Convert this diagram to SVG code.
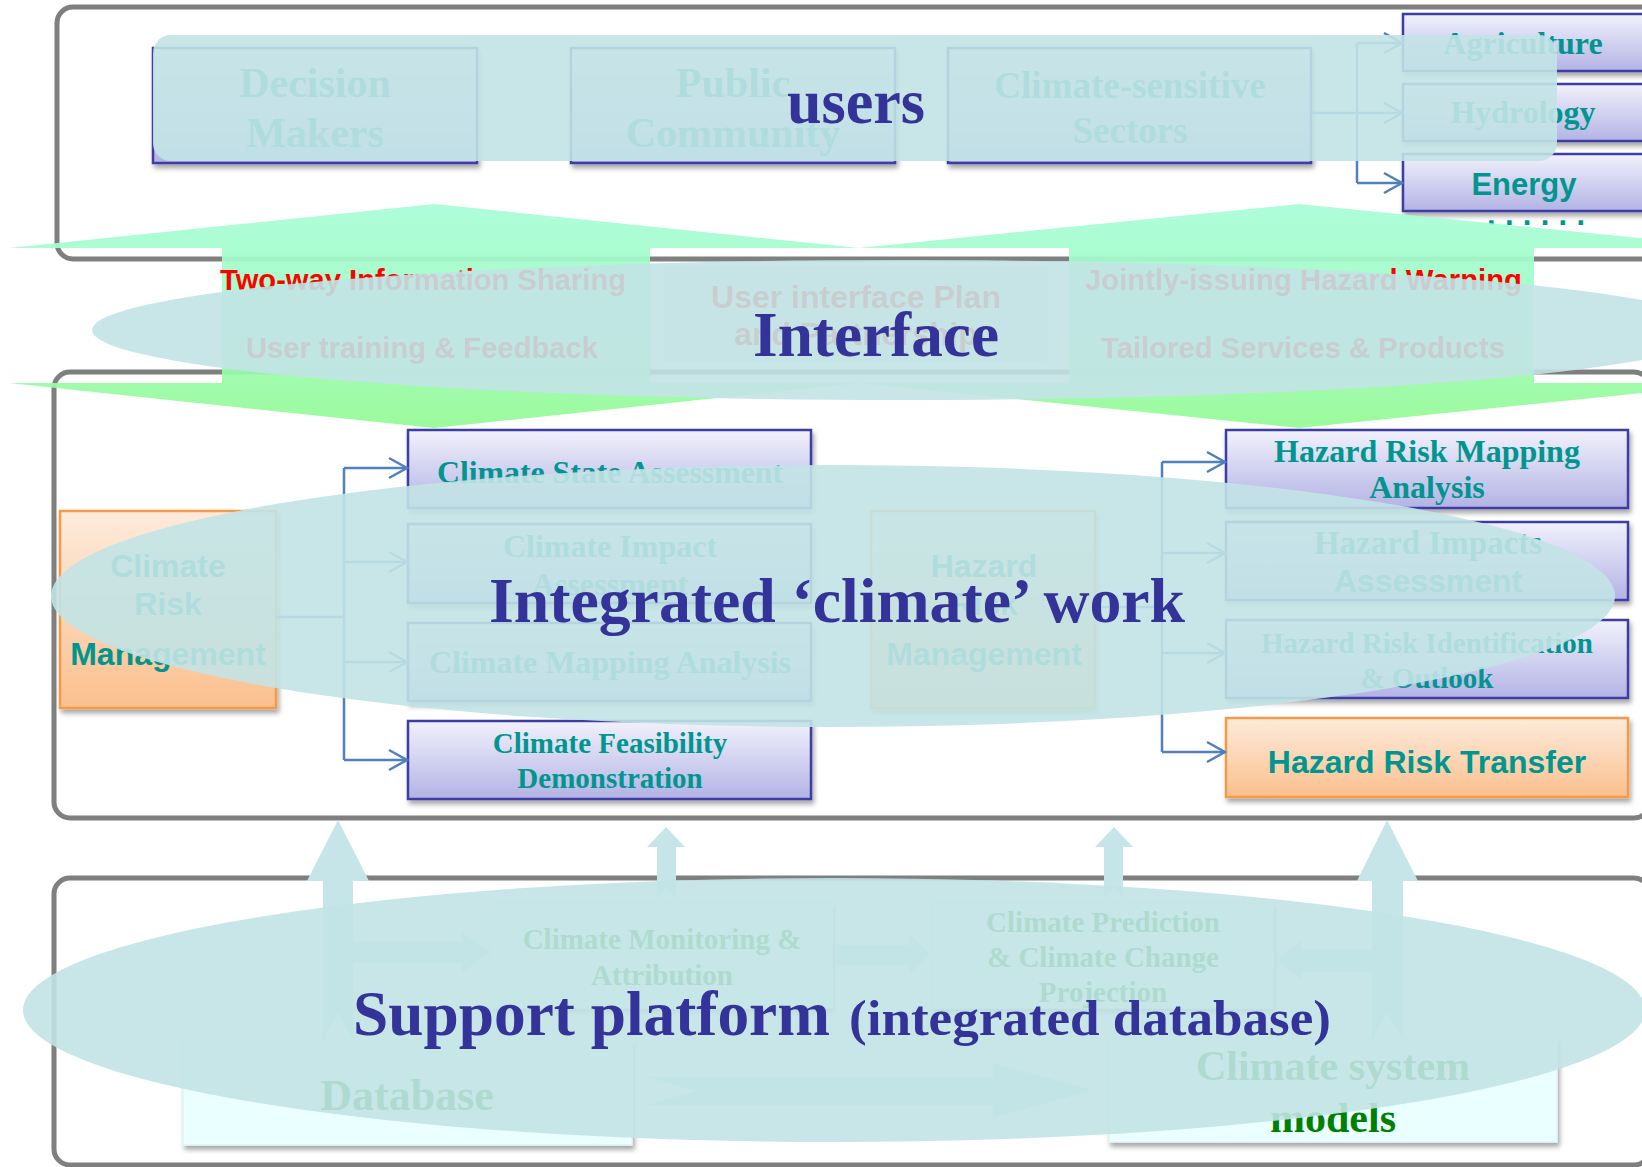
<svg xmlns="http://www.w3.org/2000/svg" width="1642" height="1167" viewBox="0 0 1642 1167">
<style>
.frame{fill:none;stroke:#7f7f7f;stroke-width:5}
.lav{fill:url(#lavG);stroke:#3d3da5;stroke-width:2.5}
.org{fill:url(#orgG);stroke:#f59a4a;stroke-width:2.5}
.cyan{fill:#eaffff;stroke:#e0f4f4;stroke-width:1.5}
.serif{font-family:"Liberation Serif","Times New Roman",serif;font-weight:bold}
.sans{font-family:"Liberation Sans",Arial,sans-serif;font-weight:bold}
.teal{fill:#00968f}
.grn{fill:#008000}
.red{fill:#ff0000}
.navy{fill:#333399}
.mid{text-anchor:middle}
.ov{fill:#c2e3e6;opacity:0.9}
.blk{fill:#c5e5e8}
.con{fill:none;stroke:#4f81bd;stroke-width:2.5}
</style>
<defs>
<linearGradient id="lavG" x1="0" y1="0" x2="0" y2="1">
<stop offset="0" stop-color="#f1f1fc"/><stop offset="1" stop-color="#b3b3e5"/>
</linearGradient>
<linearGradient id="orgG" x1="0" y1="0" x2="0" y2="1">
<stop offset="0" stop-color="#fdebdc"/><stop offset="1" stop-color="#fbc08e"/>
</linearGradient>
<linearGradient id="grnG" gradientUnits="userSpaceOnUse" x1="0" y1="204" x2="0" y2="428">
<stop offset="0" stop-color="#a8fdd8"/><stop offset="0.5" stop-color="#a0fcc0"/><stop offset="1" stop-color="#94fa94"/>
</linearGradient>
<filter id="sh" x="-5%" y="-10%" width="115%" height="135%">
<feDropShadow dx="2" dy="4" stdDeviation="2.5" flood-color="#000" flood-opacity="0.35"/>
</filter>
<marker id="chev" markerUnits="userSpaceOnUse" markerWidth="24" markerHeight="26" viewBox="0 0 24 26" refX="21" refY="13" orient="auto">
<path d="M3,3 L21,13 L3,23" fill="none" stroke="#4f81bd" stroke-width="2.5"/>
</marker>
</defs>
<rect width="1642" height="1167" fill="#ffffff"/>
<g id="frames">
<rect class="frame" x="57" y="7" width="1700" height="252" rx="16"/>
<rect class="frame" x="54" y="372" width="1596" height="446" rx="16"/>
<rect class="frame" x="54" y="878" width="1596" height="287" rx="16"/>
</g>
<!-- users nodes -->
<g id="node-decision-makers">
<rect class="lav" x="153" y="48" width="324" height="115" filter="url(#sh)"/>
<text class="serif teal mid" x="315" y="97" font-size="42">Decision</text>
<text class="serif teal mid" x="315" y="147" font-size="42">Makers</text>
</g>
<g id="node-public-community">
<rect class="lav" x="571" y="48" width="324" height="115" filter="url(#sh)"/>
<text class="serif teal mid" x="733" y="97" font-size="42">Public</text>
<text class="serif teal mid" x="733" y="147" font-size="42">Community</text>
</g>
<g id="node-sectors">
<rect class="lav" x="948" y="48" width="363" height="115" filter="url(#sh)"/>
<text class="serif teal mid" x="1130" y="98" font-size="37">Climate-sensitive</text>
<text class="serif teal mid" x="1130" y="143" font-size="37">Sectors</text>
</g>
<g id="node-agriculture">
<rect class="lav" x="1403" y="14" width="260" height="57" filter="url(#sh)"/>
<text class="serif teal mid" x="1523" y="54" font-size="32">Agriculture</text>
</g>
<g id="node-hydrology">
<rect class="lav" x="1403" y="84" width="260" height="57" filter="url(#sh)"/>
<text class="serif teal mid" x="1523" y="123" font-size="32">Hydrology</text>
</g>
<g id="node-energy">
<rect class="lav" x="1403" y="154" width="260" height="57" filter="url(#sh)"/>
<text class="sans teal mid" x="1524" y="195" font-size="31">Energy</text>
<text class="sans teal" x="1487" y="225" font-size="31" textLength="98" lengthAdjust="spacing">......</text>
</g>
<!-- integrated work nodes -->
<g id="node-climate-risk-management">
<rect class="org" x="60" y="511" width="216" height="197" filter="url(#sh)"/>
<text class="sans teal mid" x="168" y="577" font-size="32">Climate</text>
<text class="sans teal mid" x="168" y="615" font-size="32">Risk</text>
<text class="sans teal mid" x="168" y="665" font-size="32">Management</text>
</g>
<g id="node-climate-state">
<rect class="lav" x="408" y="430" width="403" height="78" filter="url(#sh)"/>
<text class="serif teal mid" x="610" y="483" font-size="32" textLength="346" lengthAdjust="spacingAndGlyphs">Climate State Assessment</text>
</g>
<g id="node-climate-impact">
<rect class="lav" x="408" y="524" width="403" height="79" filter="url(#sh)"/>
<text class="serif teal mid" x="610" y="557" font-size="32">Climate Impact</text>
<text class="serif teal mid" x="610" y="595" font-size="32">Assessment</text>
</g>
<g id="node-climate-mapping">
<rect class="lav" x="408" y="623" width="403" height="78" filter="url(#sh)"/>
<text class="serif teal mid" x="610" y="673" font-size="32" textLength="362" lengthAdjust="spacingAndGlyphs">Climate Mapping Analysis</text>
</g>
<g id="node-climate-feasibility">
<rect class="lav" x="408" y="721" width="403" height="78" filter="url(#sh)"/>
<text class="serif teal mid" x="610" y="753" font-size="29">Climate Feasibility</text>
<text class="serif teal mid" x="610" y="788" font-size="29">Demonstration</text>
</g>
<g id="node-hazard-risk-management">
<rect class="org" x="871" y="511" width="224" height="197" filter="url(#sh)"/>
<text class="sans teal mid" x="984" y="577" font-size="32">Hazard</text>
<text class="sans teal mid" x="984" y="615" font-size="32">Risk</text>
<text class="sans teal mid" x="984" y="665" font-size="32">Management</text>
</g>
<g id="node-hazard-mapping">
<rect class="lav" x="1226" y="430" width="402" height="78" filter="url(#sh)"/>
<text class="serif teal mid" x="1427" y="462" font-size="32">Hazard Risk Mapping</text>
<text class="serif teal mid" x="1427" y="498" font-size="32">Analysis</text>
</g>
<g id="node-hazard-impacts">
<rect class="lav" x="1226" y="522" width="402" height="78" filter="url(#sh)"/>
<text class="serif teal mid" x="1428" y="554" font-size="33">Hazard Impacts</text>
<text class="sans teal mid" x="1428" y="592" font-size="32">Assessment</text>
</g>
<g id="node-hazard-identification">
<rect class="lav" x="1226" y="620" width="402" height="78" filter="url(#sh)"/>
<text class="serif teal mid" x="1427" y="653" font-size="29">Hazard Risk Identification</text>
<text class="serif teal mid" x="1427" y="688" font-size="29">&amp; Outlook</text>
</g>
<g id="node-hazard-transfer">
<rect class="org" x="1226" y="718" width="402" height="79" filter="url(#sh)"/>
<text class="sans teal mid" x="1427" y="773" font-size="32">Hazard Risk Transfer</text>
</g>
<!-- support platform nodes -->
<g id="node-monitoring">
<rect class="cyan" x="491" y="903" width="341" height="105" filter="url(#sh)"/>
<text class="serif grn mid" x="662" y="949" font-size="29">Climate Monitoring &amp;</text>
<text class="serif grn mid" x="662" y="985" font-size="29">Attribution</text>
</g>
<g id="node-prediction">
<rect class="cyan" x="933" y="903" width="340" height="105" filter="url(#sh)"/>
<text class="serif grn mid" x="1103" y="932" font-size="29">Climate Prediction</text>
<text class="serif grn mid" x="1103" y="967" font-size="29">&amp; Climate Change</text>
<text class="serif grn mid" x="1103" y="1002" font-size="29">Projection</text>
</g>
<g id="node-database">
<rect class="cyan" x="183" y="1040" width="449" height="105" filter="url(#sh)"/>
<text class="serif grn mid" x="407" y="1110" font-size="44">Database</text>
</g>
<g id="node-models">
<rect class="cyan" x="1109" y="1038" width="448" height="104" filter="url(#sh)"/>
<text class="serif grn mid" x="1333" y="1080" font-size="42">Climate system</text>
<text class="serif grn mid" x="1333" y="1132" font-size="42">models</text>
</g>
<g id="connectors">
<path class="con" d="M1311,113 H1357 M1357,43 V183"/>
<path class="con" d="M1357,43 H1402" marker-end="url(#chev)"/>
<path class="con" d="M1357,113 H1402" marker-end="url(#chev)"/>
<path class="con" d="M1357,183 H1402" marker-end="url(#chev)"/>
<path class="con" d="M276,617 H344 M344,468 V760"/>
<path class="con" d="M344,468 H407" marker-end="url(#chev)"/>
<path class="con" d="M344,562 H407" marker-end="url(#chev)"/>
<path class="con" d="M344,662 H407" marker-end="url(#chev)"/>
<path class="con" d="M344,760 H407" marker-end="url(#chev)"/>
<path class="con" d="M1095,607 H1162 M1162,462 V752"/>
<path class="con" d="M1162,462 H1225" marker-end="url(#chev)"/>
<path class="con" d="M1162,553 H1225" marker-end="url(#chev)"/>
<path class="con" d="M1162,653 H1225" marker-end="url(#chev)"/>
<path class="con" d="M1162,752 H1225" marker-end="url(#chev)"/>
<polygon class="blk" points="338,820 369,881 353,881 353,1040 338,1013 323,1040 323,881 307,881"/>
<polygon class="blk" points="1387,820 1418,881 1403,881 1403,1040 1387,1013 1372,1040 1372,881 1357,881"/>
<polygon class="blk" points="666,827 685,847 676,847 676,897 666,888 657,897 657,847 647,847"/>
<polygon class="blk" points="1114,827 1133,847 1123,847 1123,897 1114,888 1104,897 1104,847 1095,847"/>
<polygon class="blk" points="353,942 462,942 462,932 490,952 462,973 462,963 353,963"/>
<polygon class="blk" points="838,945 909,945 909,933 930,954 909,975 909,965 838,965"/>
<polygon class="blk" points="1372,950 1301,950 1301,940 1277,960 1301,980 1301,972 1372,972"/>
<polygon class="blk" points="647,1077 993,1077 993,1063 1093,1090 993,1118 993,1105 647,1105 695,1091"/>
</g>
<g id="interface">
<polygon fill="url(#grnG)" opacity="0.93" points="9,248 434,204 859,248 650,248 650,383 859,383 434,428 9,383 222,383 222,248"/>
<polygon fill="url(#grnG)" opacity="0.93" points="859,248 1299,204 1739,248 1534,248 1534,383 1739,383 1299,428 859,383 1069,383 1069,248"/>
<rect x="662" y="265" width="387" height="99" fill="#ececec" stroke="#fafafa" stroke-width="3"/>
<text class="sans red" x="220" y="290" font-size="30" textLength="406" lengthAdjust="spacingAndGlyphs">Two-way Information Sharing</text>
<text class="sans red" x="246" y="358" font-size="30" textLength="352" lengthAdjust="spacingAndGlyphs">User training &amp; Feedback</text>
<text class="sans red" x="1085" y="290" font-size="30" textLength="437" lengthAdjust="spacingAndGlyphs">Jointly-issuing Hazard Warning</text>
<text class="sans red" x="1101" y="358" font-size="30" textLength="404" lengthAdjust="spacingAndGlyphs">Tailored Services &amp; Products</text>
<text class="sans red mid" x="856" y="308" font-size="32">User interface Plan</text>
<text class="sans red mid" x="856" y="345" font-size="32">and Partnership</text>
</g>
<g id="overlays">
<rect class="ov" x="153" y="35" width="1404" height="126" rx="18"/>
<ellipse class="ov" cx="906" cy="330" rx="814" ry="70"/>
<ellipse class="ov" cx="833" cy="596" rx="782" ry="131"/>
<ellipse class="ov" cx="834" cy="1010" rx="811" ry="132"/>
</g>
<g id="titles">
<text class="serif navy" x="787" y="123" font-size="64" textLength="138" lengthAdjust="spacingAndGlyphs">users</text>
<text class="serif navy" x="753" y="356" font-size="64" textLength="246" lengthAdjust="spacingAndGlyphs">Interface</text>
<text class="serif navy" x="489" y="622" font-size="63" textLength="696" lengthAdjust="spacingAndGlyphs">Integrated ‘climate’ work</text>
<text class="serif navy" x="353" y="1035" font-size="63" textLength="477" lengthAdjust="spacingAndGlyphs">Support platform</text>
<text class="serif navy" x="849" y="1035" font-size="50" textLength="482" lengthAdjust="spacingAndGlyphs">(integrated database)</text>
</g>
</svg>
